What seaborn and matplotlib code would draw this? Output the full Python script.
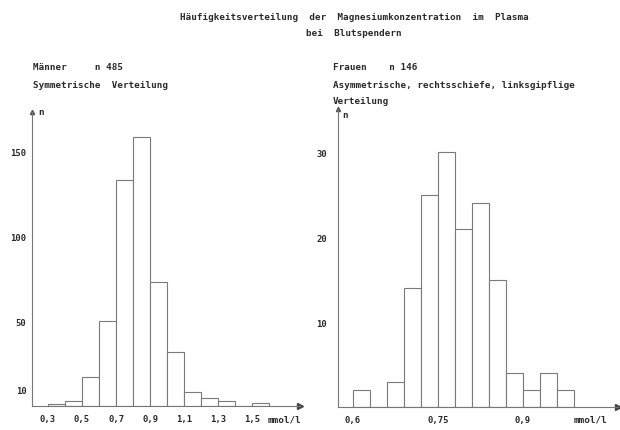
import matplotlib
matplotlib.use("Agg")
import matplotlib.pyplot as plt
import numpy as np
import pandas as pd
import seaborn as sns

# ---------------- data ----------------
title_line1 = "Häufigkeitsverteilung  der  Magnesiumkonzentration  im  Plasma"
title_line2 = "bei  Blutspendern"

men_header = "Männer     n 485"
men_subtitle = "Symmetrische  Verteilung"
men_edges = [0.3, 0.4, 0.5, 0.6, 0.7, 0.8, 0.9, 1.0, 1.1, 1.2, 1.3, 1.4, 1.5, 1.6]
men_counts = [1, 3, 17, 50, 133, 158, 73, 32, 8, 5, 3, 0, 2]
men_xticks = [0.3, 0.5, 0.7, 0.9, 1.1, 1.3, 1.5]
men_xticklabels = ["0,3", "0,5", "0,7", "0,9", "1,1", "1,3", "1,5"]
men_yticks = [10, 50, 100, 150]

women_header = "Frauen    n 146"
women_subtitle1 = "Asymmetrische, rechtsschiefe, linksgipflige"
women_subtitle2 = "Verteilung"
women_edges = [0.60, 0.63, 0.66, 0.69, 0.72, 0.75, 0.78, 0.81, 0.84, 0.87, 0.90, 0.93, 0.96, 0.99]
women_counts = [2, 0, 3, 14, 25, 30, 21, 24, 15, 4, 2, 4, 2]
women_xticks = [0.6, 0.75, 0.9]
women_xticklabels = ["0,6", "0,75", "0,9"]
women_yticks = [10, 20, 30]

unit = "mmol/l"
ylab = "n"

# ---------------- style ----------------
sns.set_style("white")
plt.rcParams["font.family"] = ["DejaVu Sans Mono"]
plt.rcParams["font.weight"] = "bold"
TXT = "#2a2a2a"
EDGE = "#7a7a7a"
FS = 6.7

W, H = 620, 431
fig = plt.figure(figsize=(W / 100, H / 100), dpi=100)
fig.patch.set_facecolor("white")


def px_axes(x0, y_top, x1, y_bot):
    return fig.add_axes([x0 / W, (H - y_bot) / H, (x1 - x0) / W, (y_bot - y_top) / H])


def draw_panel(ax, edges, counts, xlim, ylim, xticks, xticklabels, yticks, ypad):
    centers = [(a + b) / 2 for a, b in zip(edges[:-1], edges[1:])]
    df = pd.DataFrame({"x": centers, "w": counts})
    sns.histplot(data=df, x="x", weights="w", bins=list(edges), ax=ax,
                 color="white", edgecolor=EDGE, linewidth=0.8, alpha=1)
    ax.set_xlim(*xlim)
    ax.set_ylim(*ylim)
    ax.set_xticks(xticks)
    ax.set_xticklabels(xticklabels)
    ax.set_yticks(yticks)
    ax.set_yticklabels([str(v) for v in yticks])
    ax.set_xlabel("")
    ax.set_ylabel("")
    ax.tick_params(axis="x", length=0, pad=6, labelsize=FS - 0.3, labelcolor=TXT)
    ax.tick_params(axis="y", length=0, pad=ypad, labelsize=FS - 0.3, labelcolor=TXT)
    for s in ["top", "right"]:
        ax.spines[s].set_visible(False)
    for s in ["left", "bottom"]:
        ax.spines[s].set_color("#777777")
        ax.spines[s].set_linewidth(0.8)
    ax.set_facecolor("white")
    # arrowheads
    ax.plot(1, 0, marker=">", ms=5, color="#444444", transform=ax.transAxes, clip_on=False)
    ax.plot(0, 1, marker="^", ms=3, color="#555555", transform=ax.transAxes, clip_on=False)
    ax.grid(False)


ax1 = px_axes(32, 113, 300, 407)
draw_panel(ax1, men_edges, men_counts, (0.206, 1.78), (0, 173), men_xticks,
           men_xticklabels, men_yticks, 4)

ax2 = px_axes(338, 110, 618, 408)
draw_panel(ax2, women_edges, women_counts, (0.5735, 1.068), (0, 35.06), women_xticks,
           women_xticklabels, women_yticks, 8)

# texts in pixel coordinates
def ftext(x, y, s, ha="left", va="center", **kw):
    fig.text(x / W, 1 - y / H, s, ha=ha, va=va, fontsize=FS, color=TXT,
             fontweight="bold", **kw)

ftext(354, 17, title_line1, ha="center")
ftext(354, 33, title_line2, ha="center")

ftext(33, 68, men_header)
ftext(33, 86, men_subtitle)
ftext(38, 113, ylab)
ftext(285, 420, unit, ha="center")

ftext(333, 68, women_header)
ftext(333, 85, women_subtitle1)
ftext(333, 102, women_subtitle2)
ftext(342, 115, ylab)
ftext(590, 420, unit, ha="center")

fig.savefig("out.png", dpi=100, facecolor="white")
